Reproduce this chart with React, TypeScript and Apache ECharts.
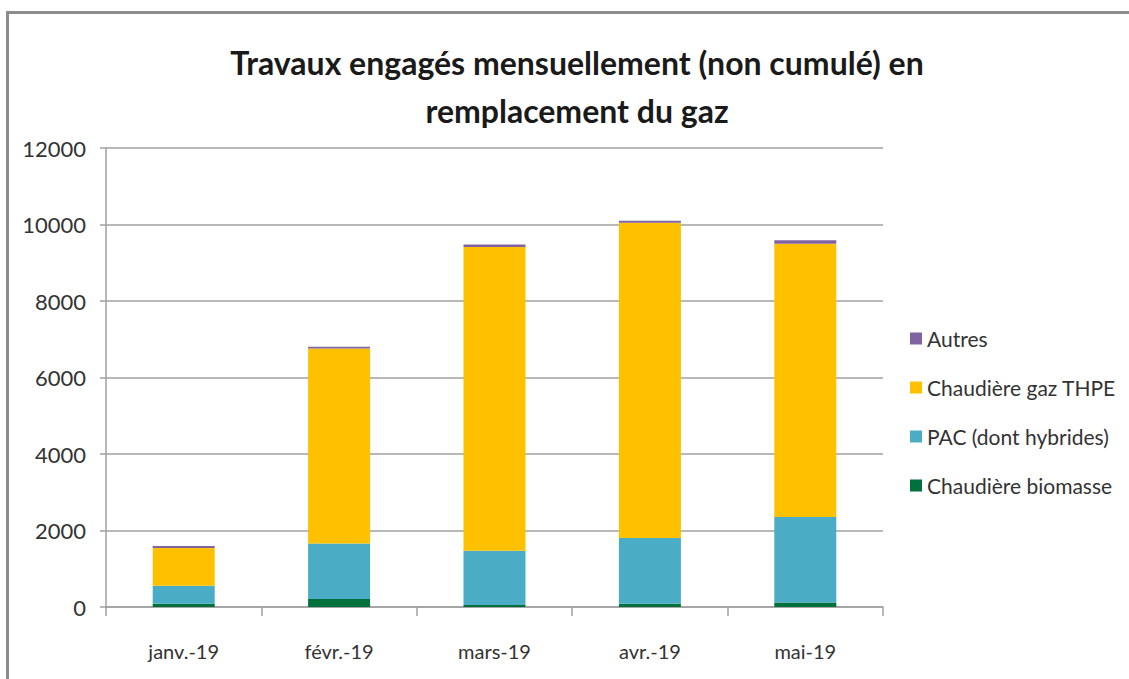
import React, { useEffect, useRef } from "react";
import * as echarts from "echarts";

const categories = ["janv.-19", "févr.-19", "mars-19", "avr.-19", "mai-19"];
const biomasse = [86, 209, 52, 86, 120];
const pac = [470, 1452, 1418, 1715, 2230];
const gazTHPE = [984, 5097, 7940, 8243, 7148];
const autres = [55, 45, 70, 55, 88];
const yTicks = [0, 2000, 4000, 6000, 8000, 10000, 12000];

const FONT = "Lato, 'Noto Sans', sans-serif";

export default function App() {
  const ref = useRef<HTMLDivElement>(null);
  useEffect(() => {
    if (!ref.current) return;
    const chart = echarts.init(ref.current, null, { renderer: "svg" });
    const barW = 62;
    chart.setOption({
      animation: false,
      backgroundColor: "transparent",
      title: {
        text: "Travaux engagés mensuellement (non cumulé) en\nremplacement du gaz",
        left: 572,
        textAlign: "center",
        top: 33,
        textStyle: {
          fontFamily: FONT,
          fontWeight: "bold",
          fontSize: 32,
          lineHeight: 48,
          color: "#1a1a1a",
        },
      },
      legend: {
        orient: "vertical",
        left: 905,
        top: 323,
        itemGap: 28,
        itemWidth: 12,
        itemHeight: 12,
        icon: "rect",
        data: ["Autres", "Chaudière gaz THPE", "PAC (dont hybrides)", "Chaudière biomasse"],
        textStyle: { fontFamily: FONT, fontSize: 21, color: "#333" },
      },
      grid: { left: 106, right: 246, top: 148, bottom: 72, containLabel: false },
      xAxis: {
        type: "category",
        data: categories,
        axisLine: { show: true, lineStyle: { color: "#a0a0a0", width: 1.5 } },
        axisTick: { show: true, alignWithLabel: false, length: 9, lineStyle: { color: "#a0a0a0", width: 1.5 } },
        axisLabel: { fontFamily: FONT, fontSize: 20, color: "#333", margin: 34 },
      },
      yAxis: {
        type: "value",
        min: yTicks[0],
        max: yTicks[yTicks.length - 1],
        interval: 2000,
        axisLine: { show: true, lineStyle: { color: "#a0a0a0", width: 1.5 } },
        axisTick: { show: true, length: 6, lineStyle: { color: "#a0a0a0", width: 1.5 } },
        axisLabel: {
          fontFamily: FONT,
          fontSize: 22,
          color: "#333",
          margin: 20,
          formatter: (v: number) => String(v),
        },
        splitLine: { show: true, lineStyle: { color: "#a0a0a0", width: 1.5 } },
      },
      series: [
        { name: "Chaudière biomasse", type: "bar", stack: "t", data: biomasse, barWidth: barW, itemStyle: { color: "#00703C" } },
        { name: "PAC (dont hybrides)", type: "bar", stack: "t", data: pac, barWidth: barW, itemStyle: { color: "#4BACC6" } },
        { name: "Chaudière gaz THPE", type: "bar", stack: "t", data: gazTHPE, barWidth: barW, itemStyle: { color: "#FFC000" } },
        { name: "Autres", type: "bar", stack: "t", data: autres, barWidth: barW, itemStyle: { color: "#8064A2" } },
      ],
    });
    return () => chart.dispose();
  }, []);
  return (
    <div style={{ position: "fixed", left: 0, top: 0, width: 1129, height: 679, background: "#fff" }}>
      <div
        style={{
          position: "absolute",
          left: 6,
          top: 11,
          width: 1123,
          height: 668,
          borderLeft: "3px solid #8c8c8c",
          borderTop: "3px solid #8c8c8c",
          boxSizing: "border-box",
        }}
      />
      <div ref={ref} style={{ position: "absolute", left: 0, top: 0, width: 1129, height: 679 }} />
    </div>
  );
}
